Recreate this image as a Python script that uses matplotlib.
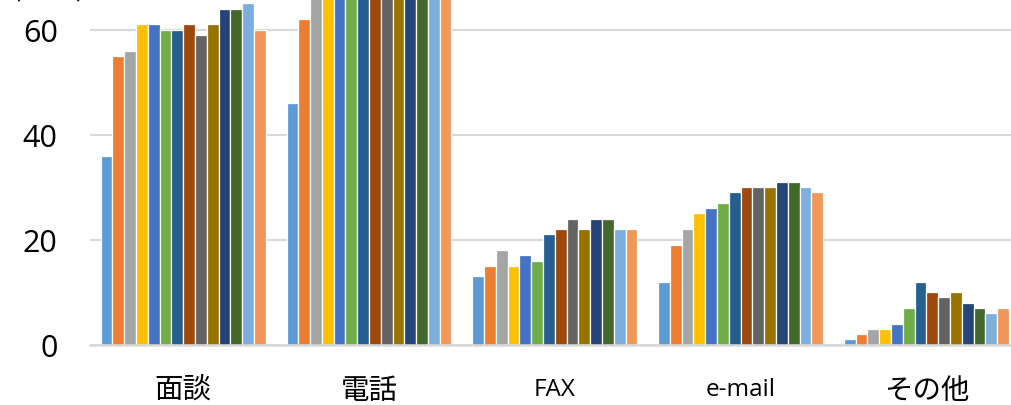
import matplotlib
matplotlib.use("Agg")
import matplotlib.pyplot as plt
import numpy as np

categories = ["面談", "電話", "FAX", "e-mail", "その他"]
series_names = [f"系列{i}" for i in range(1, 15)]
colors = ["#5B9BD5", "#ED7D31", "#A5A5A5", "#FFC000", "#4472C4", "#70AD47",
          "#255E91", "#9E480E", "#636363", "#997300", "#264478", "#43682B",
          "#7CAFDD", "#F1975A"]

# values per series (one entry per category)
s01 = [36, 46, 13, 12, 1]
s02 = [55, 62, 15, 19, 2]
s03 = [56, 68, 18, 22, 3]
s04 = [61, 70, 15, 25, 3]
s05 = [61, 70, 17, 26, 4]
s06 = [60, 70, 16, 27, 7]
s07 = [60, 71, 21, 29, 12]
s08 = [61, 71, 22, 30, 10]
s09 = [59, 70, 24, 30, 9]
s10 = [61, 71, 22, 30, 10]
s11 = [64, 72, 24, 31, 8]
s12 = [64, 72, 24, 31, 7]
s13 = [65, 72, 22, 30, 6]
s14 = [60, 70, 22, 29, 7]
series = [s01, s02, s03, s04, s05, s06, s07, s08, s09, s10, s11, s12, s13, s14]

yticks = [0, 20, 40, 60]

W, H = 1011, 406
fig = plt.figure(figsize=(W / 100, H / 100), dpi=100)
px_per_unit = 315 / 60
y0_px = 345.5
left_px = 90.3
cat_px = 185.8
ymax = 70
ax = fig.add_axes([left_px / W, (H - y0_px) / H, 5 * cat_px / W, ymax * px_per_unit / H])

n = len(series)
x = np.arange(len(categories))
group_w = 0.888
bw = group_w / n
for i, (vals, c) in enumerate(zip(series, colors)):
    offs = -group_w / 2 + bw * (i + 0.5)
    ax.bar(x + offs, vals, width=bw, color=c, edgecolor="white", linewidth=0.9,
           label=series_names[i], zorder=3)

ax.set_xlim(-0.5, len(categories) - 0.5)
ax.set_ylim(0, ymax)
ax.set_yticks(yticks)
ax.set_yticklabels([str(v) for v in yticks], fontsize=22, family="Open Sans")
ax.tick_params(axis="y", length=0, pad=23.5)
ax.grid(axis="y", color="#D9D9D9", linewidth=1.5, zorder=0)
ax.set_axisbelow(True)
for s in ["top", "right", "left"]:
    ax.spines[s].set_visible(False)
ax.spines["bottom"].set_color("#D9D9D9")
ax.spines["bottom"].set_linewidth(1.8)
ax.spines["bottom"].set_zorder(4)

ax.set_xticks(x)
ax.set_xticklabels(categories)
ax.tick_params(axis="x", length=0, pad=22)
for lab in ax.get_xticklabels():
    t = lab.get_text()
    if any(ord(ch) > 0x2000 for ch in t):
        lab.set_fontfamily(["Noto Sans CJK JP", "DejaVu Sans"])
        lab.set_fontsize(20.5)
    else:
        lab.set_fontfamily("Open Sans")
        lab.set_fontsize(17.5)
        lab.set_y(-0.006)

fig.text(12 / W, 1 - 3 / H, "(件数)", fontsize=20, va="bottom", ha="left",
         family=["Noto Sans CJK JP", "DejaVu Sans"])

fig.savefig("out.png", dpi=100)
